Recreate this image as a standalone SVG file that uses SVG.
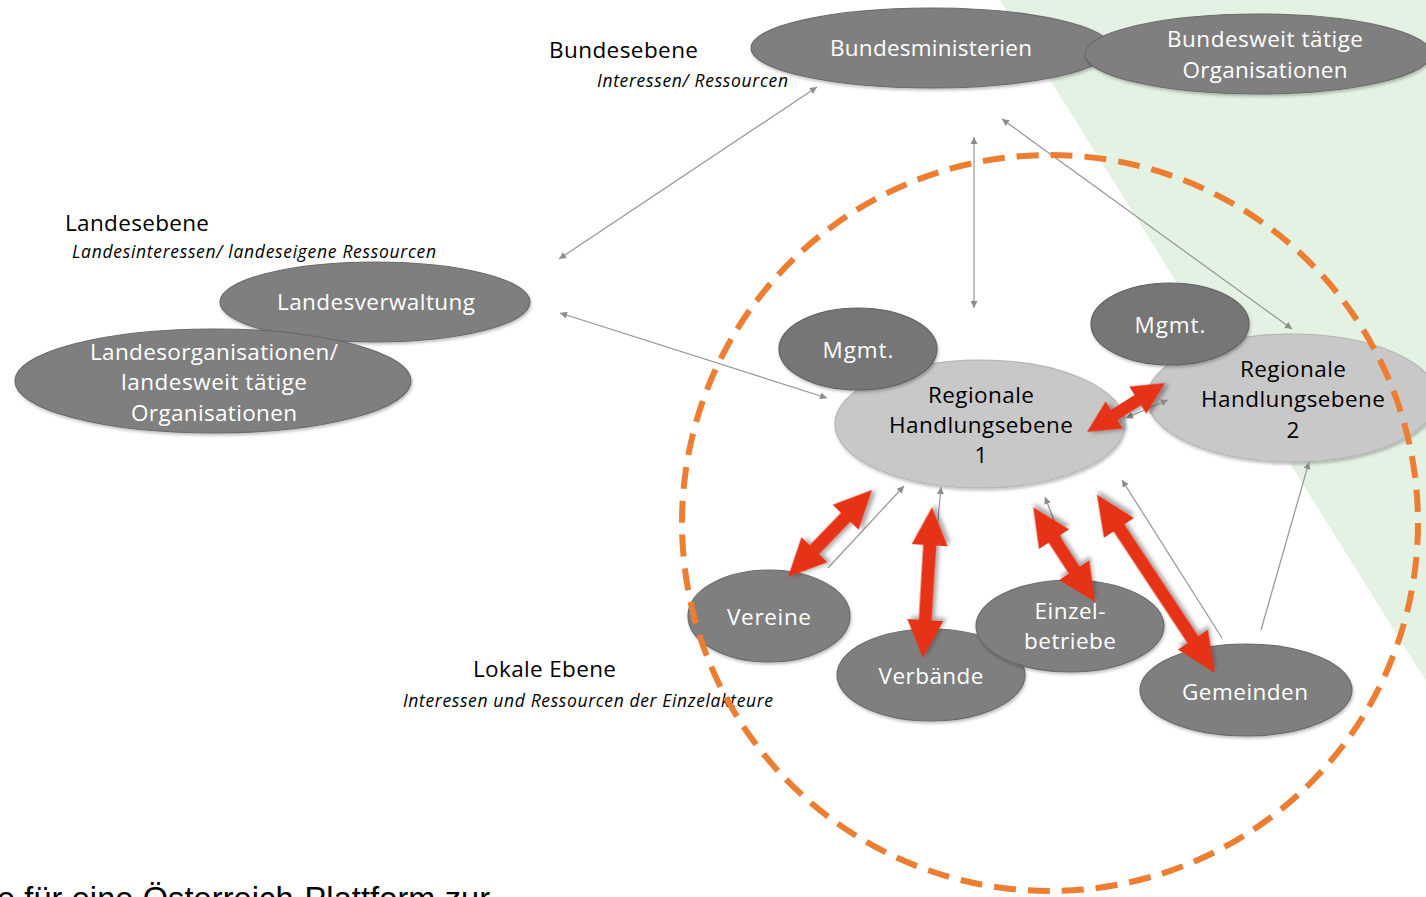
<svg xmlns="http://www.w3.org/2000/svg" width="1426" height="897" viewBox="0 0 1426 897">
<defs>
<style>
.node{fill:#7f7f7f;stroke:#6a6a6a;stroke-width:1.2;filter:url(#sh)}
.mg{fill:#767676;stroke:#606060;stroke-width:1.2;filter:url(#sh)}
.rh{fill:#c8c8c8;stroke:#b4b4b4;stroke-width:1.2;filter:url(#sh)}
.wt{font-family:"Open Sans","Noto Sans",sans-serif;font-size:22.5px;fill:#ffffff;text-anchor:middle}
.bt{font-family:"Open Sans","Noto Sans",sans-serif;font-size:22.5px;fill:#000000;text-anchor:middle}
.lvl{font-family:"Open Sans","Noto Sans",sans-serif;font-size:22.5px;fill:#000000}
.sub{font-family:"Open Sans","Noto Sans",sans-serif;font-size:17.5px;font-style:italic;fill:#000000}
.gl{stroke:#959595;stroke-width:1.2;fill:none;marker-end:url(#ah)}
.gl2{stroke:#959595;stroke-width:1.2;fill:none;marker-start:url(#ah);marker-end:url(#ah)}
.red{fill:#e63312;filter:url(#rsh)}
</style>
<marker id="ah" viewBox="0 0 10 10" refX="10" refY="5" markerWidth="9" markerHeight="7" markerUnits="userSpaceOnUse" orient="auto-start-reverse">
<path d="M0,0 L10,5 L0,10 z" fill="#8c8c8c"/>
</marker>
<filter id="sh" x="-10%" y="-10%" width="120%" height="130%">
<feDropShadow dx="1" dy="2" stdDeviation="1.5" flood-color="#000" flood-opacity="0.25"/>
</filter>
<filter id="rsh" x="-30%" y="-30%" width="160%" height="160%">
<feDropShadow dx="3" dy="3" stdDeviation="2" flood-color="#000" flood-opacity="0.35"/>
</filter>
</defs>
<rect width="1426" height="897" fill="#ffffff"/>
<g id="background">
<polygon points="1000,0 1426,0 1426,681" fill="#e3f2e3"/>
</g>
<g id="labels">
<text class="lvl" x="549" y="58" textLength="149" lengthAdjust="spacing">Bundesebene</text>
<text class="sub" x="597" y="87" textLength="191" lengthAdjust="spacing">Interessen/ Ressourcen</text>
<text class="lvl" x="65" y="231" textLength="144" lengthAdjust="spacing">Landesebene</text>
<text class="sub" x="72" y="258" textLength="364" lengthAdjust="spacing">Landesinteressen/ landeseigene Ressourcen</text>
<text class="lvl" x="473" y="677" textLength="143" lengthAdjust="spacing">Lokale Ebene</text>
<text class="sub" x="403" y="707" textLength="370" lengthAdjust="spacing">Interessen und Ressourcen der Einzelakteure</text>
<text x="-3" y="910" font-family="'Liberation Sans',Arial,sans-serif" font-size="32.5" fill="#000000" textLength="493" lengthAdjust="spacing">e für eine Österreich-Plattform zur</text>
</g>
<g id="n-bundesministerien">
<ellipse class="node" cx="931" cy="48" rx="180" ry="40"/>
<text class="wt" x="931" y="56" textLength="202" lengthAdjust="spacing">Bundesministerien</text>
</g>
<g id="n-bundesweit">
<ellipse class="node" cx="1258" cy="54" rx="173" ry="40"/>
<text class="wt" x="1265" y="47" textLength="196" lengthAdjust="spacing">Bundesweit tätige</text>
<text class="wt" x="1265" y="78" textLength="165" lengthAdjust="spacing">Organisationen</text>
</g>
<g id="n-landesverwaltung">
<ellipse class="node" cx="375" cy="302" rx="155" ry="40"/>
<text class="wt" x="376" y="310" textLength="198" lengthAdjust="spacing">Landesverwaltung</text>
</g>
<g id="n-landesorganisationen">
<ellipse class="node" cx="213" cy="381" rx="198" ry="52"/>
<text class="wt" x="214" y="360" textLength="248" lengthAdjust="spacing">Landesorganisationen/</text>
<text class="wt" x="214" y="390" textLength="186" lengthAdjust="spacing">landesweit tätige</text>
<text class="wt" x="214" y="421" textLength="166" lengthAdjust="spacing">Organisationen</text>
</g>
<g id="n-rh1">
<ellipse class="rh" cx="980" cy="424" rx="145" ry="64"/>
<text class="bt" x="981" y="403" textLength="106" lengthAdjust="spacing">Regionale</text>
<text class="bt" x="981" y="433" textLength="184" lengthAdjust="spacing">Handlungsebene</text>
<text class="bt" x="981" y="463">1</text>
</g>
<g id="n-mgmt1">
<ellipse class="mg" cx="858" cy="349" rx="79" ry="41"/>
<text class="wt" x="858" y="358" textLength="71" lengthAdjust="spacing">Mgmt.</text>
</g>
<g id="n-rh2">
<ellipse class="rh" cx="1292" cy="398" rx="145" ry="64"/>
<text class="bt" x="1293" y="377" textLength="106" lengthAdjust="spacing">Regionale</text>
<text class="bt" x="1293" y="407" textLength="184" lengthAdjust="spacing">Handlungsebene</text>
<text class="bt" x="1293" y="438">2</text>
</g>
<g id="n-mgmt2">
<ellipse class="mg" cx="1170" cy="324" rx="79" ry="41"/>
<text class="wt" x="1170" y="333" textLength="71" lengthAdjust="spacing">Mgmt.</text>
</g>
<g id="n-vereine">
<ellipse class="node" cx="769" cy="616" rx="81" ry="46"/>
<text class="wt" x="769" y="625" textLength="84" lengthAdjust="spacing">Vereine</text>
</g>
<g id="n-verbaende">
<ellipse class="node" cx="931" cy="675" rx="94" ry="46"/>
<text class="wt" x="931" y="684" textLength="105" lengthAdjust="spacing">Verbände</text>
</g>
<g id="n-einzelbetriebe">
<ellipse class="node" cx="1070" cy="626" rx="94" ry="46"/>
<text class="wt" x="1070" y="619" textLength="71" lengthAdjust="spacing">Einzel-</text>
<text class="wt" x="1070" y="649" textLength="92" lengthAdjust="spacing">betriebe</text>
</g>
<g id="n-gemeinden">
<ellipse class="node" cx="1246" cy="690" rx="106" ry="46"/>
<text class="wt" x="1245" y="700" textLength="126" lengthAdjust="spacing">Gemeinden</text>
</g>
<g id="connectors">
<line class="gl2" x1="559" y1="259" x2="817" y2="87"/>
<line class="gl2" x1="560" y1="313" x2="827" y2="398"/>
<line class="gl2" x1="974" y1="137" x2="974" y2="308"/>
<line class="gl2" x1="1002" y1="119" x2="1292" y2="329"/>
<line class="gl2" x1="1126" y1="418" x2="1168" y2="400"/>
<line class="gl" x1="828" y1="568" x2="904" y2="486"/>
<line class="gl" x1="928" y1="628" x2="941" y2="487"/>
<line class="gl" x1="1077" y1="580" x2="1045" y2="497"/>
<line class="gl" x1="1222" y1="638" x2="1122" y2="480"/>
<line class="gl" x1="1261" y1="630" x2="1309" y2="462"/>
</g>
<g id="boundary">
<circle cx="1050" cy="523" r="368" fill="none" stroke="#ed7d31" stroke-width="6" stroke-dasharray="22 12"/>
</g>
<g id="interactions">
<path class="red" transform="translate(1087,432) rotate(-32.1)" d="M0,0 L32,-16 L32,-6 L60,-6 L60,-16 L92,0 L60,16 L60,6 L32,6 L32,16 Z"/>
<path class="red" transform="translate(788,577) rotate(-46)" d="M0,0 L38,-18 L38,-6.5 L83,-6.5 L83,-18 L121,0 L83,18 L83,6.5 L38,6.5 L38,18 Z"/>
<path class="red" transform="translate(923,658) rotate(-86.6)" d="M0,0 L38,-18 L38,-6.5 L113,-6.5 L113,-18 L151,0 L113,18 L113,6.5 L38,6.5 L38,18 Z"/>
<path class="red" transform="translate(1095,602) rotate(-123.1)" d="M0,0 L38,-18 L38,-6.5 L75,-6.5 L75,-18 L113,0 L75,18 L75,6.5 L38,6.5 L38,18 Z"/>
<path class="red" transform="translate(1215,673) rotate(-123.5)" d="M0,0 L40,-18 L40,-6.5 L174,-6.5 L174,-18 L214,0 L174,18 L174,6.5 L40,6.5 L40,18 Z"/>
</g>
</svg>
